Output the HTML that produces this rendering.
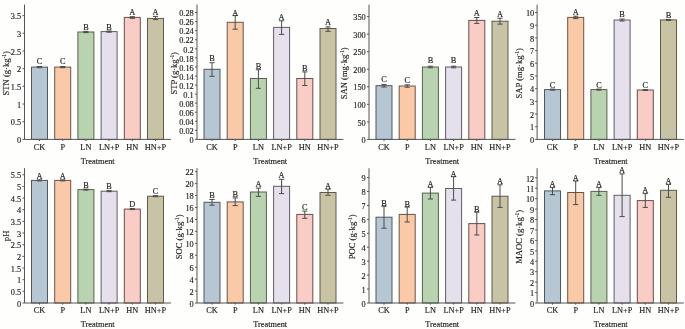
<!DOCTYPE html>
<html><head><meta charset="utf-8"><style>
html,body{margin:0;padding:0;background:#fefefd;}
body{width:685px;height:329px;overflow:hidden;}
svg{display:block;filter:blur(0.35px);}
text{font-family:"Liberation Serif", serif;fill:#222;stroke:#222;stroke-width:0.15px;}
</style></head><body>
<svg width="685" height="329" viewBox="0 0 685 329">
<rect width="685" height="329" fill="#fefefd"/>
<rect x="31.5" y="67.1" width="16" height="72.3" fill="#b6c7d3" stroke="#50585e" stroke-width="1"/>
<rect x="54.7" y="67.1" width="16" height="72.3" fill="#f9c9a8" stroke="#6a5446" stroke-width="1"/>
<rect x="77.9" y="32" width="16" height="107.4" fill="#b9d3b0" stroke="#56604f" stroke-width="1"/>
<rect x="101.1" y="31.6" width="16" height="107.8" fill="#e6dfec" stroke="#605e64" stroke-width="1"/>
<rect x="124.3" y="17.4" width="16" height="122" fill="#f9cdc5" stroke="#6a4e4c" stroke-width="1"/>
<rect x="147.5" y="18.4" width="16" height="121" fill="#c9c3a5" stroke="#5c5a48" stroke-width="1"/>
<path d="M39.5 66.5V67.7M36.9 66.5H42.1M36.9 67.7H42.1" stroke="#4a4a4a" stroke-width="1" fill="none"/>
<text x="39.5" y="63.9" text-anchor="middle" font-size="8.3">C</text>
<path d="M62.7 66.5V67.7M60.1 66.5H65.3M60.1 67.7H65.3" stroke="#4a4a4a" stroke-width="1" fill="none"/>
<text x="62.7" y="63.9" text-anchor="middle" font-size="8.3">C</text>
<path d="M85.9 31.4V32.6M83.3 31.4H88.5M83.3 32.6H88.5" stroke="#4a4a4a" stroke-width="1" fill="none"/>
<text x="85.9" y="29.6" text-anchor="middle" font-size="8.3">B</text>
<path d="M109.1 31V32.2M106.5 31H111.7M106.5 32.2H111.7" stroke="#4a4a4a" stroke-width="1" fill="none"/>
<text x="109.1" y="29.5" text-anchor="middle" font-size="8.3">B</text>
<path d="M132.3 16.7V18.3M129.7 16.7H134.9M129.7 18.3H134.9" stroke="#4a4a4a" stroke-width="1" fill="none"/>
<text x="132.3" y="15.3" text-anchor="middle" font-size="8.3">A</text>
<path d="M155.5 16.4V19.6M152.9 16.4H158.1M152.9 19.6H158.1" stroke="#4a4a4a" stroke-width="1" fill="none"/>
<text x="155.5" y="15.4" text-anchor="middle" font-size="8.3">A</text>
<path d="M24.5 4.6V139.4H170.9" stroke="#555" stroke-width="1" fill="none"/>
<text x="21.2" y="143.1" text-anchor="end" font-size="8.3">0</text>
<text x="21.2" y="125.41" text-anchor="end" font-size="8.3">0.5</text>
<text x="21.2" y="107.73" text-anchor="end" font-size="8.3">1</text>
<text x="21.2" y="90.04" text-anchor="end" font-size="8.3">1.5</text>
<text x="21.2" y="72.36" text-anchor="end" font-size="8.3">2</text>
<text x="21.2" y="54.67" text-anchor="end" font-size="8.3">2.5</text>
<text x="21.2" y="36.99" text-anchor="end" font-size="8.3">3</text>
<text x="21.2" y="19.3" text-anchor="end" font-size="8.3">3.5</text>
<text x="39.5" y="149.7" text-anchor="middle" font-size="8.3">CK</text>
<text x="62.7" y="149.7" text-anchor="middle" font-size="8.3">P</text>
<text x="85.9" y="149.7" text-anchor="middle" font-size="8.3">LN</text>
<text x="109.1" y="149.7" text-anchor="middle" font-size="8.3">LN+P</text>
<text x="132.3" y="149.7" text-anchor="middle" font-size="8.3">HN</text>
<text x="155.5" y="149.7" text-anchor="middle" font-size="8.3">HN+P</text>
<path d="M22.5 139.4H24.5M22.5 121.71H24.5M22.5 104.03H24.5M22.5 86.34H24.5M22.5 68.66H24.5M22.5 50.97H24.5M22.5 33.29H24.5M22.5 15.6H24.5M39.5 139.4V141M62.7 139.4V141M85.9 139.4V141M109.1 139.4V141M132.3 139.4V141M155.5 139.4V141" stroke="#555" stroke-width="1" fill="none"/>
<text x="97.7" y="163.8" text-anchor="middle" font-size="8.3">Treatment</text>
<text transform="translate(9.2 73.3) rotate(-90)" text-anchor="middle" font-size="8.6">STN (g·kg<tspan font-size="5.33" dy="-3">-1</tspan><tspan dy="3">)</tspan></text>
<rect x="204" y="69.3" width="16" height="70.1" fill="#b6c7d3" stroke="#50585e" stroke-width="1"/>
<rect x="227.2" y="22.3" width="16" height="117.1" fill="#f9c9a8" stroke="#6a5446" stroke-width="1"/>
<rect x="250.4" y="78.5" width="16" height="60.9" fill="#b9d3b0" stroke="#56604f" stroke-width="1"/>
<rect x="273.6" y="27.4" width="16" height="112" fill="#e6dfec" stroke="#605e64" stroke-width="1"/>
<rect x="296.8" y="78.5" width="16" height="60.9" fill="#f9cdc5" stroke="#6a4e4c" stroke-width="1"/>
<rect x="320" y="28.5" width="16" height="110.9" fill="#c9c3a5" stroke="#5c5a48" stroke-width="1"/>
<path d="M212 62.7V76.3M209.4 62.7H214.6M209.4 76.3H214.6" stroke="#4a4a4a" stroke-width="1" fill="none"/>
<text x="212" y="61" text-anchor="middle" font-size="8.3">B</text>
<path d="M235.2 15.6V29.2M232.6 15.6H237.8M232.6 29.2H237.8" stroke="#4a4a4a" stroke-width="1" fill="none"/>
<text x="235.2" y="15.9" text-anchor="middle" font-size="8.3">A</text>
<path d="M258.4 69.7V88.3M255.8 69.7H261M255.8 88.3H261" stroke="#4a4a4a" stroke-width="1" fill="none"/>
<text x="258.4" y="68.9" text-anchor="middle" font-size="8.3">B</text>
<path d="M281.6 20.8V34.4M279 20.8H284.2M279 34.4H284.2" stroke="#4a4a4a" stroke-width="1" fill="none"/>
<text x="281.6" y="19.7" text-anchor="middle" font-size="8.3">A</text>
<path d="M304.8 71.9V85.5M302.2 71.9H307.4M302.2 85.5H307.4" stroke="#4a4a4a" stroke-width="1" fill="none"/>
<text x="304.8" y="71.1" text-anchor="middle" font-size="8.3">B</text>
<path d="M328 26.9V31.3M325.4 26.9H330.6M325.4 31.3H330.6" stroke="#4a4a4a" stroke-width="1" fill="none"/>
<text x="328" y="25.4" text-anchor="middle" font-size="8.3">A</text>
<path d="M197 4.6V139.4H343.4" stroke="#555" stroke-width="1" fill="none"/>
<text x="193.7" y="143.1" text-anchor="end" font-size="8.3">0</text>
<text x="193.7" y="134.04" text-anchor="end" font-size="8.3">0.02</text>
<text x="193.7" y="124.99" text-anchor="end" font-size="8.3">0.04</text>
<text x="193.7" y="115.93" text-anchor="end" font-size="8.3">0.06</text>
<text x="193.7" y="106.87" text-anchor="end" font-size="8.3">0.08</text>
<text x="193.7" y="97.81" text-anchor="end" font-size="8.3">0.1</text>
<text x="193.7" y="88.76" text-anchor="end" font-size="8.3">0.12</text>
<text x="193.7" y="79.7" text-anchor="end" font-size="8.3">0.14</text>
<text x="193.7" y="70.64" text-anchor="end" font-size="8.3">0.16</text>
<text x="193.7" y="61.59" text-anchor="end" font-size="8.3">0.18</text>
<text x="193.7" y="52.53" text-anchor="end" font-size="8.3">0.2</text>
<text x="193.7" y="43.47" text-anchor="end" font-size="8.3">0.22</text>
<text x="193.7" y="34.41" text-anchor="end" font-size="8.3">0.24</text>
<text x="193.7" y="25.36" text-anchor="end" font-size="8.3">0.26</text>
<text x="193.7" y="16.3" text-anchor="end" font-size="8.3">0.28</text>
<text x="212" y="149.7" text-anchor="middle" font-size="8.3">CK</text>
<text x="235.2" y="149.7" text-anchor="middle" font-size="8.3">P</text>
<text x="258.4" y="149.7" text-anchor="middle" font-size="8.3">LN</text>
<text x="281.6" y="149.7" text-anchor="middle" font-size="8.3">LN+P</text>
<text x="304.8" y="149.7" text-anchor="middle" font-size="8.3">HN</text>
<text x="328" y="149.7" text-anchor="middle" font-size="8.3">HN+P</text>
<path d="M195 139.4H197M195 130.34H197M195 121.29H197M195 112.23H197M195 103.17H197M195 94.11H197M195 85.06H197M195 76H197M195 66.94H197M195 57.89H197M195 48.83H197M195 39.77H197M195 30.71H197M195 21.66H197M195 12.6H197M212 139.4V141M235.2 139.4V141M258.4 139.4V141M281.6 139.4V141M304.8 139.4V141M328 139.4V141" stroke="#555" stroke-width="1" fill="none"/>
<text x="270.2" y="163.8" text-anchor="middle" font-size="8.3">Treatment</text>
<text transform="translate(176.8 73.3) rotate(-90)" text-anchor="middle" font-size="8.6">STP (g·kg<tspan font-size="5.33" dy="-3">-1</tspan><tspan dy="3">)</tspan></text>
<rect x="376" y="85.7" width="16" height="53.7" fill="#b6c7d3" stroke="#50585e" stroke-width="1"/>
<rect x="399.2" y="86" width="16" height="53.4" fill="#f9c9a8" stroke="#6a5446" stroke-width="1"/>
<rect x="422.4" y="67" width="16" height="72.4" fill="#b9d3b0" stroke="#56604f" stroke-width="1"/>
<rect x="445.6" y="67" width="16" height="72.4" fill="#e6dfec" stroke="#605e64" stroke-width="1"/>
<rect x="468.8" y="20.4" width="16" height="119" fill="#f9cdc5" stroke="#6a4e4c" stroke-width="1"/>
<rect x="492" y="21.2" width="16" height="118.2" fill="#c9c3a5" stroke="#5c5a48" stroke-width="1"/>
<path d="M384 84.4V87M381.4 84.4H386.6M381.4 87H386.6" stroke="#4a4a4a" stroke-width="1" fill="none"/>
<text x="384" y="82.2" text-anchor="middle" font-size="8.3">C</text>
<path d="M407.2 84.8V87.2M404.6 84.8H409.8M404.6 87.2H409.8" stroke="#4a4a4a" stroke-width="1" fill="none"/>
<text x="407.2" y="82.6" text-anchor="middle" font-size="8.3">C</text>
<path d="M430.4 66.2V67.8M427.8 66.2H433M427.8 67.8H433" stroke="#4a4a4a" stroke-width="1" fill="none"/>
<text x="430.4" y="63.2" text-anchor="middle" font-size="8.3">B</text>
<path d="M453.6 66.2V67.8M451 66.2H456.2M451 67.8H456.2" stroke="#4a4a4a" stroke-width="1" fill="none"/>
<text x="453.6" y="63.2" text-anchor="middle" font-size="8.3">B</text>
<path d="M476.8 17.5V23.4M474.2 17.5H479.4M474.2 23.4H479.4" stroke="#4a4a4a" stroke-width="1" fill="none"/>
<text x="476.8" y="16" text-anchor="middle" font-size="8.3">A</text>
<path d="M500 18.2V24.1M497.4 18.2H502.6M497.4 24.1H502.6" stroke="#4a4a4a" stroke-width="1" fill="none"/>
<text x="500" y="17.1" text-anchor="middle" font-size="8.3">A</text>
<path d="M369 4.6V139.4H515.4" stroke="#555" stroke-width="1" fill="none"/>
<text x="365.7" y="143.1" text-anchor="end" font-size="8.3">0</text>
<text x="365.7" y="125.56" text-anchor="end" font-size="8.3">50</text>
<text x="365.7" y="108.01" text-anchor="end" font-size="8.3">100</text>
<text x="365.7" y="90.47" text-anchor="end" font-size="8.3">150</text>
<text x="365.7" y="72.93" text-anchor="end" font-size="8.3">200</text>
<text x="365.7" y="55.39" text-anchor="end" font-size="8.3">250</text>
<text x="365.7" y="37.84" text-anchor="end" font-size="8.3">300</text>
<text x="365.7" y="20.3" text-anchor="end" font-size="8.3">350</text>
<text x="384" y="149.7" text-anchor="middle" font-size="8.3">CK</text>
<text x="407.2" y="149.7" text-anchor="middle" font-size="8.3">P</text>
<text x="430.4" y="149.7" text-anchor="middle" font-size="8.3">LN</text>
<text x="453.6" y="149.7" text-anchor="middle" font-size="8.3">LN+P</text>
<text x="476.8" y="149.7" text-anchor="middle" font-size="8.3">HN</text>
<text x="500" y="149.7" text-anchor="middle" font-size="8.3">HN+P</text>
<path d="M367 139.4H369M367 121.86H369M367 104.31H369M367 86.77H369M367 69.23H369M367 51.69H369M367 34.14H369M367 16.6H369M384 139.4V141M407.2 139.4V141M430.4 139.4V141M453.6 139.4V141M476.8 139.4V141M500 139.4V141" stroke="#555" stroke-width="1" fill="none"/>
<text x="442.2" y="163.8" text-anchor="middle" font-size="8.3">Treatment</text>
<text transform="translate(347.4 73.3) rotate(-90)" text-anchor="middle" font-size="8.6">SAN (mg·kg<tspan font-size="5.33" dy="-3">-1</tspan><tspan dy="3">)</tspan></text>
<rect x="544.5" y="89.6" width="16" height="49.8" fill="#b6c7d3" stroke="#50585e" stroke-width="1"/>
<rect x="567.7" y="17.4" width="16" height="122" fill="#f9c9a8" stroke="#6a5446" stroke-width="1"/>
<rect x="590.9" y="89.6" width="16" height="49.8" fill="#b9d3b0" stroke="#56604f" stroke-width="1"/>
<rect x="614.1" y="20" width="16" height="119.4" fill="#e6dfec" stroke="#605e64" stroke-width="1"/>
<rect x="637.3" y="90" width="16" height="49.4" fill="#f9cdc5" stroke="#6a4e4c" stroke-width="1"/>
<rect x="660.5" y="19.9" width="16" height="119.5" fill="#c9c3a5" stroke="#5c5a48" stroke-width="1"/>
<path d="M552.5 89.1V90.1M549.9 89.1H555.1M549.9 90.1H555.1" stroke="#4a4a4a" stroke-width="1" fill="none"/>
<text x="552.5" y="87.6" text-anchor="middle" font-size="8.3">C</text>
<path d="M575.7 16.2V18.6M573.1 16.2H578.3M573.1 18.6H578.3" stroke="#4a4a4a" stroke-width="1" fill="none"/>
<text x="575.7" y="14.6" text-anchor="middle" font-size="8.3">A</text>
<path d="M598.9 89.1V90.1M596.3 89.1H601.5M596.3 90.1H601.5" stroke="#4a4a4a" stroke-width="1" fill="none"/>
<text x="598.9" y="87.6" text-anchor="middle" font-size="8.3">C</text>
<path d="M622.1 19V21M619.5 19H624.7M619.5 21H624.7" stroke="#4a4a4a" stroke-width="1" fill="none"/>
<text x="622.1" y="17.2" text-anchor="middle" font-size="8.3">B</text>
<path d="M645.3 89.6V90.4M642.7 89.6H647.9M642.7 90.4H647.9" stroke="#4a4a4a" stroke-width="1" fill="none"/>
<text x="645.3" y="88" text-anchor="middle" font-size="8.3">C</text>
<path d="M668.5 19.4V20.4M665.9 19.4H671.1M665.9 20.4H671.1" stroke="#4a4a4a" stroke-width="1" fill="none"/>
<text x="668.5" y="17.5" text-anchor="middle" font-size="8.3">B</text>
<path d="M537.1 4.6V139.4H683.9" stroke="#555" stroke-width="1" fill="none"/>
<text x="534.2" y="143.1" text-anchor="end" font-size="8.3">0</text>
<text x="534.2" y="130.41" text-anchor="end" font-size="8.3">1</text>
<text x="534.2" y="117.72" text-anchor="end" font-size="8.3">2</text>
<text x="534.2" y="105.03" text-anchor="end" font-size="8.3">3</text>
<text x="534.2" y="92.34" text-anchor="end" font-size="8.3">4</text>
<text x="534.2" y="79.65" text-anchor="end" font-size="8.3">5</text>
<text x="534.2" y="66.96" text-anchor="end" font-size="8.3">6</text>
<text x="534.2" y="54.27" text-anchor="end" font-size="8.3">7</text>
<text x="534.2" y="41.58" text-anchor="end" font-size="8.3">8</text>
<text x="534.2" y="28.89" text-anchor="end" font-size="8.3">9</text>
<text x="534.2" y="16.2" text-anchor="end" font-size="8.3">10</text>
<text x="552.5" y="149.7" text-anchor="middle" font-size="8.3">CK</text>
<text x="575.7" y="149.7" text-anchor="middle" font-size="8.3">P</text>
<text x="598.9" y="149.7" text-anchor="middle" font-size="8.3">LN</text>
<text x="622.1" y="149.7" text-anchor="middle" font-size="8.3">LN+P</text>
<text x="645.3" y="149.7" text-anchor="middle" font-size="8.3">HN</text>
<text x="668.5" y="149.7" text-anchor="middle" font-size="8.3">HN+P</text>
<path d="M535.1 139.4H537.1M535.1 126.71H537.1M535.1 114.02H537.1M535.1 101.33H537.1M535.1 88.64H537.1M535.1 75.95H537.1M535.1 63.26H537.1M535.1 50.57H537.1M535.1 37.88H537.1M535.1 25.19H537.1M535.1 12.5H537.1M552.5 139.4V141M575.7 139.4V141M598.9 139.4V141M622.1 139.4V141M645.3 139.4V141M668.5 139.4V141" stroke="#555" stroke-width="1" fill="none"/>
<text x="610.7" y="163.8" text-anchor="middle" font-size="8.3">Treatment</text>
<text transform="translate(522 73.3) rotate(-90)" text-anchor="middle" font-size="8.6">SAP (mg·kg<tspan font-size="5.33" dy="-3">-1</tspan><tspan dy="3">)</tspan></text>
<rect x="31.5" y="180.4" width="16" height="122.6" fill="#b6c7d3" stroke="#50585e" stroke-width="1"/>
<rect x="54.7" y="180.4" width="16" height="122.6" fill="#f9c9a8" stroke="#6a5446" stroke-width="1"/>
<rect x="77.9" y="189.6" width="16" height="113.4" fill="#b9d3b0" stroke="#56604f" stroke-width="1"/>
<rect x="101.1" y="191.2" width="16" height="111.8" fill="#e6dfec" stroke="#605e64" stroke-width="1"/>
<rect x="124.3" y="209.1" width="16" height="93.9" fill="#f9cdc5" stroke="#6a4e4c" stroke-width="1"/>
<rect x="147.5" y="196.2" width="16" height="106.8" fill="#c9c3a5" stroke="#5c5a48" stroke-width="1"/>
<path d="M39.5 179.9V180.9M36.9 179.9H42.1M36.9 180.9H42.1" stroke="#4a4a4a" stroke-width="1" fill="none"/>
<text x="39.5" y="178.9" text-anchor="middle" font-size="8.3">A</text>
<path d="M62.7 179.9V180.9M60.1 179.9H65.3M60.1 180.9H65.3" stroke="#4a4a4a" stroke-width="1" fill="none"/>
<text x="62.7" y="178.9" text-anchor="middle" font-size="8.3">A</text>
<path d="M85.9 189.1V190.1M83.3 189.1H88.5M83.3 190.1H88.5" stroke="#4a4a4a" stroke-width="1" fill="none"/>
<text x="85.9" y="188.1" text-anchor="middle" font-size="8.3">B</text>
<path d="M109.1 190.7V191.7M106.5 190.7H111.7M106.5 191.7H111.7" stroke="#4a4a4a" stroke-width="1" fill="none"/>
<text x="109.1" y="189.4" text-anchor="middle" font-size="8.3">B</text>
<path d="M132.3 208.6V209.6M129.7 208.6H134.9M129.7 209.6H134.9" stroke="#4a4a4a" stroke-width="1" fill="none"/>
<text x="132.3" y="207" text-anchor="middle" font-size="8.3">D</text>
<path d="M155.5 195.7V196.7M152.9 195.7H158.1M152.9 196.7H158.1" stroke="#4a4a4a" stroke-width="1" fill="none"/>
<text x="155.5" y="194.3" text-anchor="middle" font-size="8.3">C</text>
<path d="M24.5 168.2V303H170.9" stroke="#555" stroke-width="1" fill="none"/>
<text x="21.2" y="306.7" text-anchor="end" font-size="8.3">0</text>
<text x="21.2" y="295.04" text-anchor="end" font-size="8.3">0.5</text>
<text x="21.2" y="283.38" text-anchor="end" font-size="8.3">1</text>
<text x="21.2" y="271.72" text-anchor="end" font-size="8.3">1.5</text>
<text x="21.2" y="260.06" text-anchor="end" font-size="8.3">2</text>
<text x="21.2" y="248.4" text-anchor="end" font-size="8.3">2.5</text>
<text x="21.2" y="236.75" text-anchor="end" font-size="8.3">3</text>
<text x="21.2" y="225.09" text-anchor="end" font-size="8.3">3.5</text>
<text x="21.2" y="213.43" text-anchor="end" font-size="8.3">4</text>
<text x="21.2" y="201.77" text-anchor="end" font-size="8.3">4.5</text>
<text x="21.2" y="190.11" text-anchor="end" font-size="8.3">5</text>
<text x="21.2" y="178.45" text-anchor="end" font-size="8.3">5.5</text>
<text x="39.5" y="313.3" text-anchor="middle" font-size="8.3">CK</text>
<text x="62.7" y="313.3" text-anchor="middle" font-size="8.3">P</text>
<text x="85.9" y="313.3" text-anchor="middle" font-size="8.3">LN</text>
<text x="109.1" y="313.3" text-anchor="middle" font-size="8.3">LN+P</text>
<text x="132.3" y="313.3" text-anchor="middle" font-size="8.3">HN</text>
<text x="155.5" y="313.3" text-anchor="middle" font-size="8.3">HN+P</text>
<path d="M22.5 303H24.5M22.5 291.34H24.5M22.5 279.68H24.5M22.5 268.02H24.5M22.5 256.36H24.5M22.5 244.7H24.5M22.5 233.05H24.5M22.5 221.39H24.5M22.5 209.73H24.5M22.5 198.07H24.5M22.5 186.41H24.5M22.5 174.75H24.5M39.5 303V304.6M62.7 303V304.6M85.9 303V304.6M109.1 303V304.6M132.3 303V304.6M155.5 303V304.6" stroke="#555" stroke-width="1" fill="none"/>
<text x="97.7" y="327.4" text-anchor="middle" font-size="8.3">Treatment</text>
<text transform="translate(9.2 235.9) rotate(-90)" text-anchor="middle" font-size="8.6">pH</text>
<rect x="204" y="202.3" width="16" height="100.7" fill="#b6c7d3" stroke="#50585e" stroke-width="1"/>
<rect x="227.2" y="201.9" width="16" height="101.1" fill="#f9c9a8" stroke="#6a5446" stroke-width="1"/>
<rect x="250.4" y="192" width="16" height="111" fill="#b9d3b0" stroke="#56604f" stroke-width="1"/>
<rect x="273.6" y="186.3" width="16" height="116.7" fill="#e6dfec" stroke="#605e64" stroke-width="1"/>
<rect x="296.8" y="214.4" width="16" height="88.6" fill="#f9cdc5" stroke="#6a4e4c" stroke-width="1"/>
<rect x="320" y="192.5" width="16" height="110.5" fill="#c9c3a5" stroke="#5c5a48" stroke-width="1"/>
<path d="M212 199.5V205.2M209.4 199.5H214.6M209.4 205.2H214.6" stroke="#4a4a4a" stroke-width="1" fill="none"/>
<text x="212" y="197.5" text-anchor="middle" font-size="8.3">B</text>
<path d="M235.2 197.9V205.6M232.6 197.9H237.8M232.6 205.6H237.8" stroke="#4a4a4a" stroke-width="1" fill="none"/>
<text x="235.2" y="196.9" text-anchor="middle" font-size="8.3">B</text>
<path d="M258.4 188.1V196.4M255.8 188.1H261M255.8 196.4H261" stroke="#4a4a4a" stroke-width="1" fill="none"/>
<text x="258.4" y="187.2" text-anchor="middle" font-size="8.3">A</text>
<path d="M281.6 179.3V193.6M279 179.3H284.2M279 193.6H284.2" stroke="#4a4a4a" stroke-width="1" fill="none"/>
<text x="281.6" y="177.8" text-anchor="middle" font-size="8.3">A</text>
<path d="M304.8 211.1V218.3M302.2 211.1H307.4M302.2 218.3H307.4" stroke="#4a4a4a" stroke-width="1" fill="none"/>
<text x="304.8" y="210" text-anchor="middle" font-size="8.3">C</text>
<path d="M328 189.2V195.3M325.4 189.2H330.6M325.4 195.3H330.6" stroke="#4a4a4a" stroke-width="1" fill="none"/>
<text x="328" y="189.4" text-anchor="middle" font-size="8.3">A</text>
<path d="M197 168.2V303H343.4" stroke="#555" stroke-width="1" fill="none"/>
<text x="193.7" y="306.7" text-anchor="end" font-size="8.3">0</text>
<text x="193.7" y="294.76" text-anchor="end" font-size="8.3">2</text>
<text x="193.7" y="282.83" text-anchor="end" font-size="8.3">4</text>
<text x="193.7" y="270.89" text-anchor="end" font-size="8.3">6</text>
<text x="193.7" y="258.95" text-anchor="end" font-size="8.3">8</text>
<text x="193.7" y="247.02" text-anchor="end" font-size="8.3">10</text>
<text x="193.7" y="235.08" text-anchor="end" font-size="8.3">12</text>
<text x="193.7" y="223.15" text-anchor="end" font-size="8.3">14</text>
<text x="193.7" y="211.21" text-anchor="end" font-size="8.3">16</text>
<text x="193.7" y="199.27" text-anchor="end" font-size="8.3">18</text>
<text x="193.7" y="187.34" text-anchor="end" font-size="8.3">20</text>
<text x="193.7" y="175.4" text-anchor="end" font-size="8.3">22</text>
<text x="212" y="313.3" text-anchor="middle" font-size="8.3">CK</text>
<text x="235.2" y="313.3" text-anchor="middle" font-size="8.3">P</text>
<text x="258.4" y="313.3" text-anchor="middle" font-size="8.3">LN</text>
<text x="281.6" y="313.3" text-anchor="middle" font-size="8.3">LN+P</text>
<text x="304.8" y="313.3" text-anchor="middle" font-size="8.3">HN</text>
<text x="328" y="313.3" text-anchor="middle" font-size="8.3">HN+P</text>
<path d="M195 303H197M195 291.06H197M195 279.13H197M195 267.19H197M195 255.25H197M195 243.32H197M195 231.38H197M195 219.45H197M195 207.51H197M195 195.57H197M195 183.64H197M195 171.7H197M212 303V304.6M235.2 303V304.6M258.4 303V304.6M281.6 303V304.6M304.8 303V304.6M328 303V304.6" stroke="#555" stroke-width="1" fill="none"/>
<text x="270.2" y="327.4" text-anchor="middle" font-size="8.3">Treatment</text>
<text transform="translate(182 236.9) rotate(-90)" text-anchor="middle" font-size="8.6">SOC (g·kg<tspan font-size="5.33" dy="-3">-1</tspan><tspan dy="3">)</tspan></text>
<rect x="376" y="217.2" width="16" height="85.8" fill="#b6c7d3" stroke="#50585e" stroke-width="1"/>
<rect x="399.2" y="214.4" width="16" height="88.6" fill="#f9c9a8" stroke="#6a5446" stroke-width="1"/>
<rect x="422.4" y="193.1" width="16" height="109.9" fill="#b9d3b0" stroke="#56604f" stroke-width="1"/>
<rect x="445.6" y="188.5" width="16" height="114.5" fill="#e6dfec" stroke="#605e64" stroke-width="1"/>
<rect x="468.8" y="223.6" width="16" height="79.4" fill="#f9cdc5" stroke="#6a4e4c" stroke-width="1"/>
<rect x="492" y="196.2" width="16" height="106.8" fill="#c9c3a5" stroke="#5c5a48" stroke-width="1"/>
<path d="M384 206.3V228.2M381.4 206.3H386.6M381.4 228.2H386.6" stroke="#4a4a4a" stroke-width="1" fill="none"/>
<text x="384" y="205.6" text-anchor="middle" font-size="8.3">B</text>
<path d="M407.2 207.1V222M404.6 207.1H409.8M404.6 222H409.8" stroke="#4a4a4a" stroke-width="1" fill="none"/>
<text x="407.2" y="206.7" text-anchor="middle" font-size="8.3">B</text>
<path d="M430.4 187.4V199M427.8 187.4H433M427.8 199H433" stroke="#4a4a4a" stroke-width="1" fill="none"/>
<text x="430.4" y="187" text-anchor="middle" font-size="8.3">A</text>
<path d="M453.6 176.7V200.1M451 176.7H456.2M451 200.1H456.2" stroke="#4a4a4a" stroke-width="1" fill="none"/>
<text x="453.6" y="176.7" text-anchor="middle" font-size="8.3">A</text>
<path d="M476.8 212.2V235M474.2 212.2H479.4M474.2 235H479.4" stroke="#4a4a4a" stroke-width="1" fill="none"/>
<text x="476.8" y="211.8" text-anchor="middle" font-size="8.3">B</text>
<path d="M500 184.8V207.4M497.4 184.8H502.6M497.4 207.4H502.6" stroke="#4a4a4a" stroke-width="1" fill="none"/>
<text x="500" y="184.4" text-anchor="middle" font-size="8.3">A</text>
<path d="M369 168.2V303H515.4" stroke="#555" stroke-width="1" fill="none"/>
<text x="365.7" y="306.7" text-anchor="end" font-size="8.3">0</text>
<text x="365.7" y="292.77" text-anchor="end" font-size="8.3">1</text>
<text x="365.7" y="278.83" text-anchor="end" font-size="8.3">2</text>
<text x="365.7" y="264.9" text-anchor="end" font-size="8.3">3</text>
<text x="365.7" y="250.97" text-anchor="end" font-size="8.3">4</text>
<text x="365.7" y="237.03" text-anchor="end" font-size="8.3">5</text>
<text x="365.7" y="223.1" text-anchor="end" font-size="8.3">6</text>
<text x="365.7" y="209.17" text-anchor="end" font-size="8.3">7</text>
<text x="365.7" y="195.23" text-anchor="end" font-size="8.3">8</text>
<text x="365.7" y="181.3" text-anchor="end" font-size="8.3">9</text>
<text x="384" y="313.3" text-anchor="middle" font-size="8.3">CK</text>
<text x="407.2" y="313.3" text-anchor="middle" font-size="8.3">P</text>
<text x="430.4" y="313.3" text-anchor="middle" font-size="8.3">LN</text>
<text x="453.6" y="313.3" text-anchor="middle" font-size="8.3">LN+P</text>
<text x="476.8" y="313.3" text-anchor="middle" font-size="8.3">HN</text>
<text x="500" y="313.3" text-anchor="middle" font-size="8.3">HN+P</text>
<path d="M367 303H369M367 289.07H369M367 275.13H369M367 261.2H369M367 247.27H369M367 233.33H369M367 219.4H369M367 205.47H369M367 191.53H369M367 177.6H369M384 303V304.6M407.2 303V304.6M430.4 303V304.6M453.6 303V304.6M476.8 303V304.6M500 303V304.6" stroke="#555" stroke-width="1" fill="none"/>
<text x="442.2" y="327.4" text-anchor="middle" font-size="8.3">Treatment</text>
<text transform="translate(354.6 236.9) rotate(-90)" text-anchor="middle" font-size="8.6">POC (g·kg<tspan font-size="5.33" dy="-3">-1</tspan><tspan dy="3">)</tspan></text>
<rect x="544.5" y="190.9" width="16" height="112.1" fill="#b6c7d3" stroke="#50585e" stroke-width="1"/>
<rect x="567.7" y="192.5" width="16" height="110.5" fill="#f9c9a8" stroke="#6a5446" stroke-width="1"/>
<rect x="590.9" y="191.4" width="16" height="111.6" fill="#b9d3b0" stroke="#56604f" stroke-width="1"/>
<rect x="614.1" y="195.3" width="16" height="107.7" fill="#e6dfec" stroke="#605e64" stroke-width="1"/>
<rect x="637.3" y="200.6" width="16" height="102.4" fill="#f9cdc5" stroke="#6a4e4c" stroke-width="1"/>
<rect x="660.5" y="190.3" width="16" height="112.7" fill="#c9c3a5" stroke="#5c5a48" stroke-width="1"/>
<path d="M552.5 187.6V194.7M549.9 187.6H555.1M549.9 194.7H555.1" stroke="#4a4a4a" stroke-width="1" fill="none"/>
<text x="552.5" y="187.2" text-anchor="middle" font-size="8.3">A</text>
<path d="M575.7 181V204.6M573.1 181H578.3M573.1 204.6H578.3" stroke="#4a4a4a" stroke-width="1" fill="none"/>
<text x="575.7" y="180.7" text-anchor="middle" font-size="8.3">A</text>
<path d="M598.9 187.6V195.3M596.3 187.6H601.5M596.3 195.3H601.5" stroke="#4a4a4a" stroke-width="1" fill="none"/>
<text x="598.9" y="187.2" text-anchor="middle" font-size="8.3">A</text>
<path d="M622.1 173.9V216.6M619.5 173.9H624.7M619.5 216.6H624.7" stroke="#4a4a4a" stroke-width="1" fill="none"/>
<text x="622.1" y="173" text-anchor="middle" font-size="8.3">A</text>
<path d="M645.3 193.6V207.4M642.7 193.6H647.9M642.7 207.4H647.9" stroke="#4a4a4a" stroke-width="1" fill="none"/>
<text x="645.3" y="193.2" text-anchor="middle" font-size="8.3">A</text>
<path d="M668.5 184.4V197.3M665.9 184.4H671.1M665.9 197.3H671.1" stroke="#4a4a4a" stroke-width="1" fill="none"/>
<text x="668.5" y="184" text-anchor="middle" font-size="8.3">A</text>
<path d="M537.1 168.2V303H683.9" stroke="#555" stroke-width="1" fill="none"/>
<text x="534.2" y="306.7" text-anchor="end" font-size="8.3">0</text>
<text x="534.2" y="296.27" text-anchor="end" font-size="8.3">1</text>
<text x="534.2" y="285.83" text-anchor="end" font-size="8.3">2</text>
<text x="534.2" y="275.4" text-anchor="end" font-size="8.3">3</text>
<text x="534.2" y="264.97" text-anchor="end" font-size="8.3">4</text>
<text x="534.2" y="254.53" text-anchor="end" font-size="8.3">5</text>
<text x="534.2" y="244.1" text-anchor="end" font-size="8.3">6</text>
<text x="534.2" y="233.67" text-anchor="end" font-size="8.3">7</text>
<text x="534.2" y="223.23" text-anchor="end" font-size="8.3">8</text>
<text x="534.2" y="212.8" text-anchor="end" font-size="8.3">9</text>
<text x="534.2" y="202.37" text-anchor="end" font-size="8.3">10</text>
<text x="534.2" y="191.93" text-anchor="end" font-size="8.3">11</text>
<text x="534.2" y="181.5" text-anchor="end" font-size="8.3">12</text>
<text x="552.5" y="313.3" text-anchor="middle" font-size="8.3">CK</text>
<text x="575.7" y="313.3" text-anchor="middle" font-size="8.3">P</text>
<text x="598.9" y="313.3" text-anchor="middle" font-size="8.3">LN</text>
<text x="622.1" y="313.3" text-anchor="middle" font-size="8.3">LN+P</text>
<text x="645.3" y="313.3" text-anchor="middle" font-size="8.3">HN</text>
<text x="668.5" y="313.3" text-anchor="middle" font-size="8.3">HN+P</text>
<path d="M535.1 303H537.1M535.1 292.57H537.1M535.1 282.13H537.1M535.1 271.7H537.1M535.1 261.27H537.1M535.1 250.83H537.1M535.1 240.4H537.1M535.1 229.97H537.1M535.1 219.53H537.1M535.1 209.1H537.1M535.1 198.67H537.1M535.1 188.23H537.1M535.1 177.8H537.1M552.5 303V304.6M575.7 303V304.6M598.9 303V304.6M622.1 303V304.6M645.3 303V304.6M668.5 303V304.6" stroke="#555" stroke-width="1" fill="none"/>
<text x="610.7" y="327.4" text-anchor="middle" font-size="8.3">Treatment</text>
<text transform="translate(522 236.9) rotate(-90)" text-anchor="middle" font-size="8.6">MAOC (g·kg<tspan font-size="5.33" dy="-3">-1</tspan><tspan dy="3">)</tspan></text>
</svg>
</body></html>
